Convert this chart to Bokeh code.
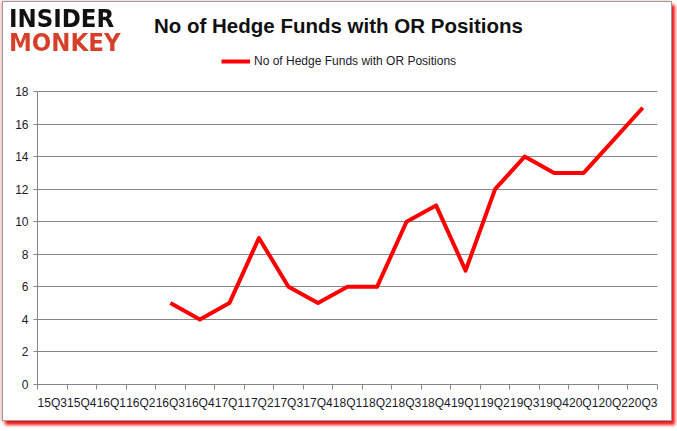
from bokeh.plotting import figure
from bokeh.layouts import column
from bokeh.models import FixedTicker, Range1d, Legend, LegendItem, Div
from bokeh.embed import file_html
from bokeh.resources import INLINE

quarters = ["15Q3", "15Q4", "16Q1", "16Q2", "16Q3", "16Q4", "17Q1", "17Q2", "17Q3", "17Q4",
            "18Q1", "18Q2", "18Q3", "18Q4", "19Q1", "19Q2", "19Q3", "19Q4", "20Q1", "20Q2", "20Q3"]
series_quarters = ["16Q3", "16Q4", "17Q1", "17Q2", "17Q3", "17Q4", "18Q1", "18Q2", "18Q3",
                   "18Q4", "19Q1", "19Q2", "19Q3", "19Q4", "20Q1", "20Q2", "20Q3"]
hedge_funds = [5, 4, 5, 9, 6, 5, 6, 6, 10, 11, 7, 12, 14, 13, 13, 15, 17]
y_ticks = [0, 2, 4, 6, 8, 10, 12, 14, 16, 18]

title_text = "No of Hedge Funds with OR Positions"
series_name = "No of Hedge Funds with OR Positions"
logo_top = "INSIDER"
logo_bottom = "MONKEY"

W, H = 677, 431
HEAD_H = 54
FIG_H = H - HEAD_H
BORDER_BOTTOM = 47
FRAME_H = FIG_H - BORDER_BOTTOM
PLOT_TOP_PX = 37          # distance from figure top to the "18" gridline
Y_MAX = 18
Y_TOP = Y_MAX * FRAME_H / (FRAME_H - PLOT_TOP_PX)

line_col = "#ff0000"
grid_col = "#868686"
label_col = "#1a1a2a"
font = "Liberation Sans"

# ---------- header: logo (one two-line text, two colours) + title ----------
logo_css = ("position:absolute;left:9px;top:6px;font-family:'DejaVu Sans Condensed','DejaVu Sans';"
            "font-weight:bold;font-size:25.5px;line-height:24px;white-space:pre;"
            "background:linear-gradient(to bottom,#111111 24px,#d6402b 24px);"
            "-webkit-background-clip:text;background-clip:text;color:transparent;")
head_html = (
    f"<div style='position:relative;width:{W}px;height:{HEAD_H}px;'>"
    f"<span style=\"{logo_css}\">{logo_top}\n{logo_bottom}</span>"
    f"<span style=\"position:absolute;left:0;top:16px;width:{W}px;text-align:center;"
    f"font-family:'{font}';font-weight:bold;font-size:20.5px;line-height:20.5px;color:#111111;"
    f"white-space:nowrap;\">{title_text}</span>"
    "</div>"
)
head = Div(text=head_html, width=W, height=HEAD_H, margin=0)

# ---------- main chart ----------
xs = [quarters.index(q) + 0.5 for q in series_quarters]

p = figure(width=W, height=FIG_H, output_backend="svg", toolbar_location=None,
           x_range=Range1d(0, len(quarters)), y_range=Range1d(0, Y_TOP))
p.min_border_left = 37
p.min_border_right = 20
p.min_border_top = 0
p.min_border_bottom = BORDER_BOTTOM
p.outline_line_color = None
p.background_fill_color = "white"
p.border_fill_color = "white"
p.border_fill_alpha = 0

r = p.line(xs, hedge_funds, line_color=line_col, line_width=4, line_join="round")

legend = Legend(items=[LegendItem(label=series_name, renderers=[r])], location=(184, FRAME_H - 14),
                orientation="horizontal", padding=0, margin=0, spacing=0,
                glyph_width=29, glyph_height=14, label_height=14, label_standoff=4,
                label_text_font=font, label_text_font_size="12px",
                label_text_color=label_col, border_line_color=None,
                background_fill_alpha=0)
p.add_layout(legend)

xa = p.xaxis[0]
xa.ticker = FixedTicker(ticks=[i + 0.5 for i in range(len(quarters))],
                        minor_ticks=list(range(len(quarters) + 1)))
xa.major_label_overrides = {i + 0.5: q for i, q in enumerate(quarters)}
xa.major_tick_line_color = None
xa.major_tick_out = 0
xa.major_tick_in = 0
xa.minor_tick_line_color = grid_col
xa.minor_tick_out = 5
xa.minor_tick_in = 0
xa.axis_line_color = grid_col
xa.major_label_standoff = 6
xa.major_label_text_font = font
xa.major_label_text_font_size = "12px"
xa.major_label_text_color = label_col
p.xgrid.grid_line_color = None

ya = p.yaxis[0]
ya.ticker = FixedTicker(ticks=y_ticks)
ya.bounds = (0, Y_MAX)
ya.minor_tick_line_color = None
ya.major_tick_line_color = grid_col
ya.major_tick_out = 4
ya.major_tick_in = 0
ya.axis_line_color = grid_col
ya.major_label_standoff = 5
ya.major_label_text_font = font
ya.major_label_text_font_size = "12px"
ya.major_label_text_color = label_col
p.ygrid.grid_line_color = grid_col
p.ygrid.ticker = FixedTicker(ticks=y_ticks)

frame_css = (
    ":host { position: relative; background: white; }\n"
    ":host::after { content: ''; position: absolute; left: 2px; top: 1px; width: 670px; height: 420px;"
    " box-sizing: border-box; border: 1px solid #9a9a9a; pointer-events: none;"
    " box-shadow: 3px 4px 3px rgba(235,0,0,0.9), -1px 0 3px rgba(235,0,0,0.35); }\n"
)

layout = column(head, p, spacing=0, stylesheets=[frame_css])
open("out.html", "w").write(file_html(layout, INLINE))
